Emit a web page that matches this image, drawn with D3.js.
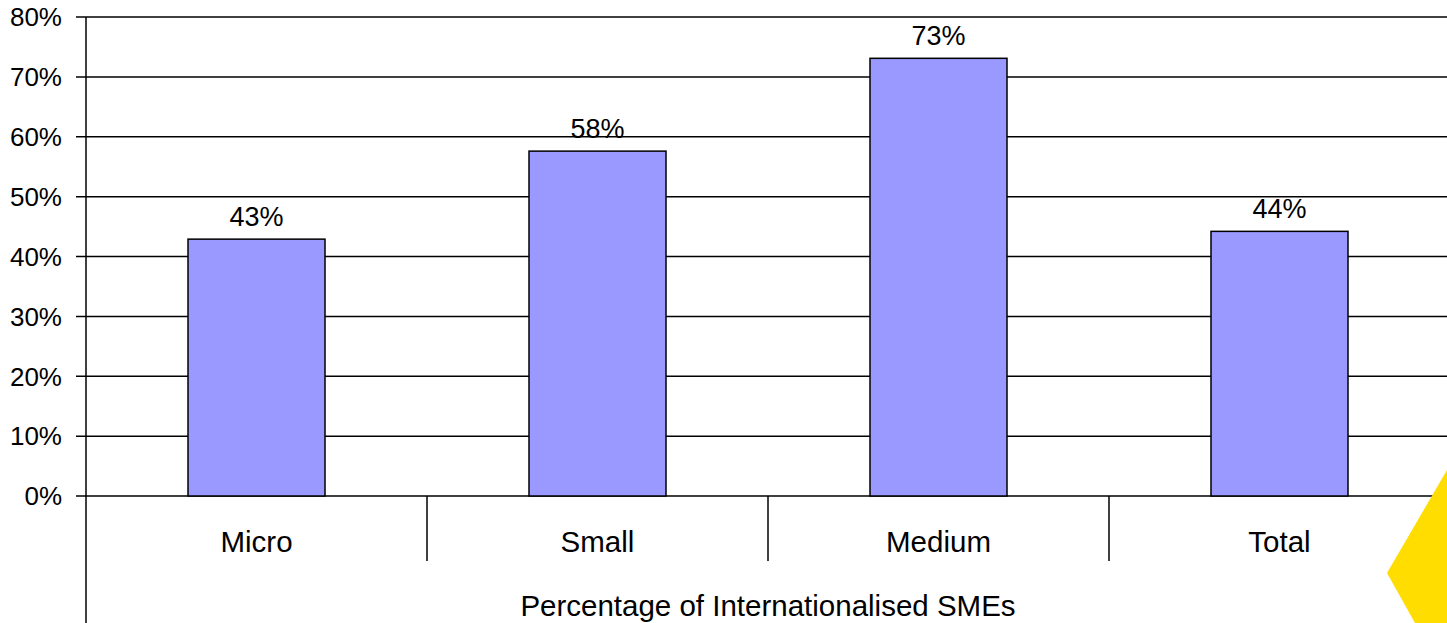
<!DOCTYPE html>
<html lang="en">
<head>
<meta charset="UTF-8">
<title>Percentage of Internationalised SMEs</title>
<script src="https://d3js.org/d3.v7.min.js"></script>
<style>
  body { margin: 0; padding: 0; background: #fff; overflow: hidden; }
  svg { display: block; font-family: Arial, "Liberation Sans", sans-serif; }
</style>
</head>
<body>
<svg width="1447" height="623"></svg>
<script>
const categories = ["Micro", "Small", "Medium", "Total"];
const values = [42.9, 57.6, 73.1, 44.2];
const valueLabels = ["43%", "58%", "73%", "44%"];
const yTicks = [0, 10, 20, 30, 40, 50, 60, 70, 80];
const axisTitle = "Percentage of Internationalised SMEs";

const svg = d3.select("svg");
const plotLeft = 86, plotRight = 1450, plotTop = 17, plotBottom = 496;

const x = d3.scaleBand().domain(categories).range([plotLeft, plotRight]).paddingInner(0).paddingOuter(0);
const y = d3.scaleLinear().domain([0, 80]).range([plotBottom, plotTop]);
const barW = 137;

// gridlines + y ticks
svg.append("g").selectAll("line").data(yTicks).join("line")
  .attr("x1", plotLeft - 10).attr("x2", plotRight)
  .attr("y1", d => y(d)).attr("y2", d => y(d))
  .attr("stroke", "#000").attr("stroke-width", 1.5);

svg.append("g").selectAll("text").data(yTicks).join("text")
  .attr("x", 62).attr("y", d => y(d)).attr("dy", "0.36em")
  .attr("text-anchor", "end").style("font-size", "26px")
  .text(d => d + "%");

// y axis line
svg.append("line").attr("x1", plotLeft).attr("x2", plotLeft)
  .attr("y1", plotTop).attr("y2", 623)
  .attr("stroke", "#000").attr("stroke-width", 1.5);

// category separators
svg.append("g").selectAll("line").data(categories.slice(1)).join("line")
  .attr("x1", d => x(d)).attr("x2", d => x(d))
  .attr("y1", plotBottom).attr("y2", 561)
  .attr("stroke", "#000").attr("stroke-width", 1.5);

// bars
svg.append("g").selectAll("rect").data(values).join("rect")
  .attr("x", (d, i) => x(categories[i]) + x.bandwidth() / 2 - barW / 2)
  .attr("width", barW)
  .attr("y", d => y(d)).attr("height", d => plotBottom - y(d))
  .attr("fill", "#9999FF").attr("stroke", "#000").attr("stroke-width", 1.5);

// value labels
svg.append("g").selectAll("text").data(values).join("text")
  .attr("x", (d, i) => x(categories[i]) + x.bandwidth() / 2)
  .attr("y", d => y(d) - 23).attr("dy", "0.36em")
  .attr("text-anchor", "middle").style("font-size", "27px")
  .text((d, i) => valueLabels[i]);

// category labels
svg.append("g").selectAll("text").data(categories).join("text")
  .attr("x", d => x(d) + x.bandwidth() / 2)
  .attr("y", 541).attr("dy", "0.36em")
  .attr("text-anchor", "middle").style("font-size", "29.5px")
  .text(d => d);

svg.append("text").attr("x", 768).attr("y", 605).attr("dy", "0.36em")
  .attr("text-anchor", "middle").style("font-size", "29.5px")
  .text(axisTitle);

// decorative yellow shape bottom right
svg.append("polygon")
  .attr("points", "1387,573 1447,470 1447,623 1415,623")
  .attr("fill", "#FFDD00");
</script>
</body>
</html>
